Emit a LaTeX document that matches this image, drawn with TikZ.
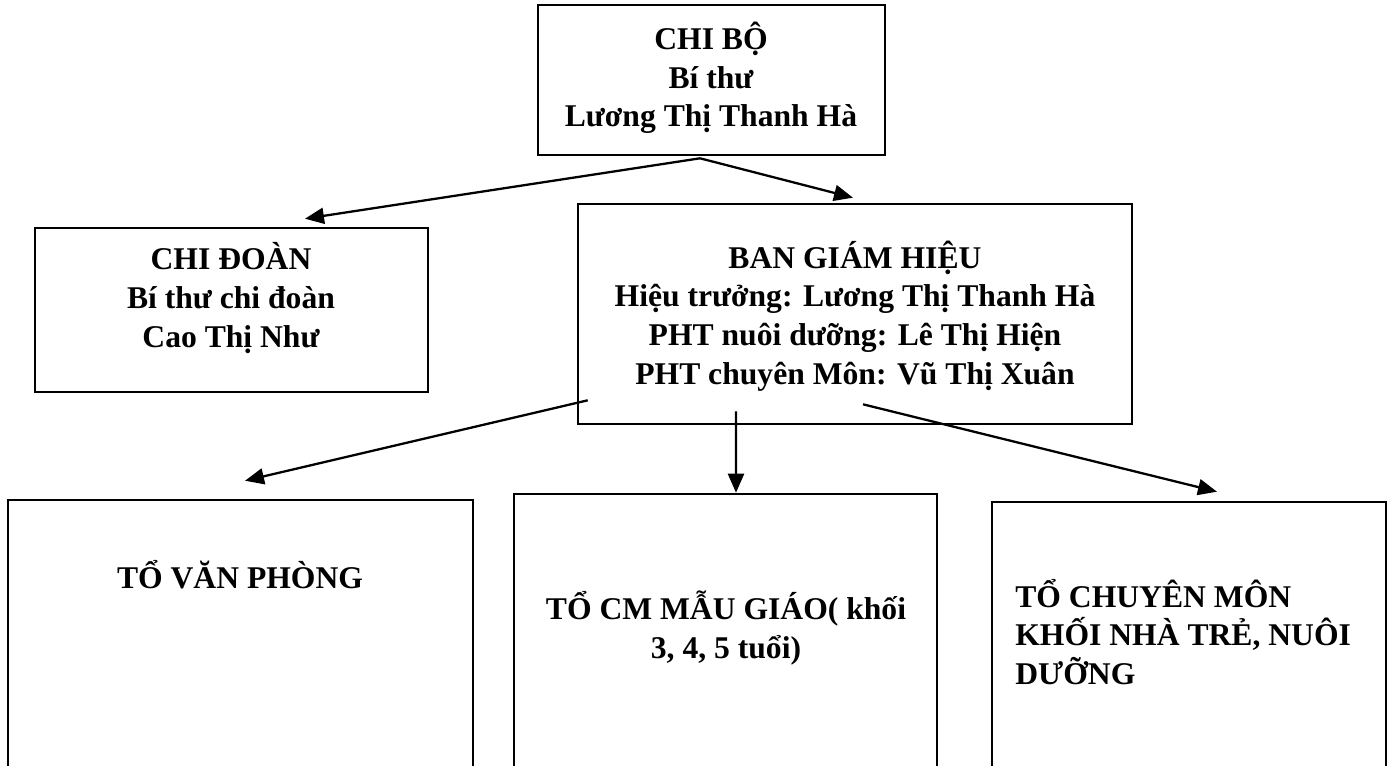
\documentclass[tikz,border=0pt]{standalone}
\usepackage{fontspec}
\setmainfont{Liberation Serif}
\usetikzlibrary{arrows.meta}
\tikzset{
  box/.style={draw, rectangle, line width=1.5pt, inner sep=0pt},
  txt/.style={font=\fontsize{18}{22}\selectfont\bfseries, align=center, inner sep=0pt},
  arr/.style={-{Triangle[length=0.38cm,width=0.32cm]}, line width=1.3pt}
}
\begin{document}
\begin{tikzpicture}[x=0.02cm, y=-0.02cm]
        \useasboundingbox (0,0) rectangle (1397,765);
        \clip (0,0) rectangle (1397,765);

        % Chi bo
        \node[box, minimum width=6.94cm, minimum height=3cm] (chibo) at (711.5,80) {};
        \node[txt] (chibotext) at (711,78) {CHI BỘ\\Bí thư\\Lương Thị Thanh Hà};

        % Chi doan and ban giam hieu
        \node[box, minimum width=7.86cm, minimum height=3.28cm] (chidoan) at (231.5,310) {};
        \node[txt] (chidoantext) at (231,298) {CHI ĐOÀN\\Bí thư chi đoàn\\Cao Thị Như};
        \node[box, minimum width=11.08cm, minimum height=4.4cm] (bgh) at (855,314) {};
        \node[txt] (bghtext) at (855,316) {BAN GIÁM HIỆU\\Hiệu trưởng: Lương Thị Thanh Hà\\PHT nuôi dưỡng: Lê Thị Hiện\\PHT chuyên Môn: Vũ Thị Xuân};

        % To (cut off at the bottom)
        \node[box, minimum width=9.3cm, minimum height=5.8cm] (vanphong) at (240.5,645) {};
        \node[txt, anchor=base] (vanphongtext) at (240,588) {TỔ VĂN PHÒNG};
        \node[box, minimum width=8.46cm, minimum height=5.92cm] (maugiao) at (725.5,642) {};
        \node[txt] (maugiaotext) at (726,628) {TỔ CM MẪU GIÁO( khối\\3, 4, 5 tuổi)};
        \node[box, minimum width=7.88cm, minimum height=5.76cm] (nhatre) at (1189,646) {};
        \node[txt, align=left, anchor=west] (nhatretext) at (1015,632) {TỔ CHUYÊN MÔN\\KHỐI NHÀ TRẺ, NUÔI\\DƯỠNG};

        % Arrows
        \draw[arr] ([xshift=-0.23cm,yshift=-0.04cm]chibo.south) -- ([xshift=1.47cm,yshift=0.16cm]chidoan.north);
        \draw[arr] ([xshift=-0.23cm,yshift=-0.04cm]chibo.south) -- ([xshift=-0.04cm,yshift=0.1cm]bgh.north);
        \draw[arr] ([xshift=0.22cm,yshift=0.5cm]bgh.south west) -- ([xshift=0.09cm,yshift=0.36cm]vanphong.north);
        \draw[arr] ([xshift=-2.38cm,yshift=0.28cm]bgh.south) -- ([xshift=0.21cm]maugiao.north);
        \draw[arr] ([xshift=0.16cm,yshift=0.42cm]bgh.south) -- ([xshift=0.56cm,yshift=0.18cm]nhatre.north);
\end{tikzpicture}
\end{document}
